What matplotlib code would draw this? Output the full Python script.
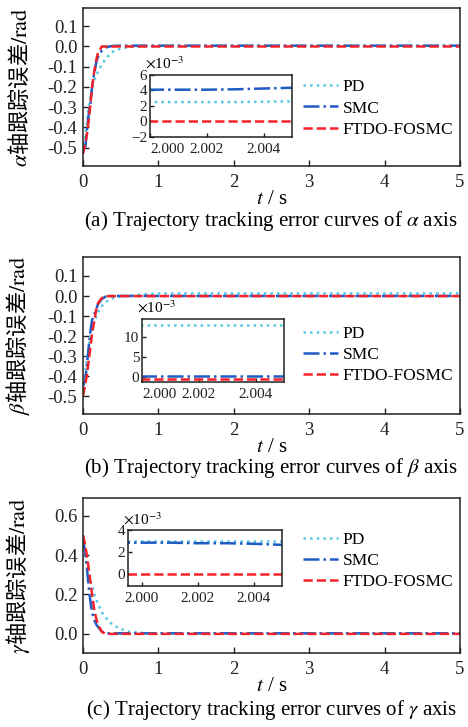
import numpy as np
import matplotlib
matplotlib.use('Agg')
import matplotlib.pyplot as plt

plt.rcParams['font.family'] = ['Liberation Serif', 'Noto Sans CJK SC']
plt.rcParams['mathtext.fontset'] = 'stix'

# time grid of the main curves (s)
t = [0, 0.03, 0.05, 0.08, 0.1, 0.12, 0.15, 0.18, 0.2, 0.25, 0.3, 0.35, 0.4, 0.5, 0.6, 0.8, 1, 2, 3, 4, 5]

# alpha axis error (rad)
pd_a   = [-0.52, -0.45, -0.38, -0.29, -0.24, -0.2, -0.165, -0.14, -0.12, -0.09, -0.06, -0.04, -0.025, -0.01, -0.003, 0.001, 0.0025, 0.0025, 0.0025, 0.0025, 0.0025]
smc_a  = [-0.5, -0.5, -0.42, -0.32, -0.28, -0.2, -0.13, -0.07, -0.05, -0.02, -0.005, 0.0, 0.003, 0.004, 0.004, 0.004, 0.004, 0.004, 0.004, 0.004, 0.004]
ftdo_a = [-0.53, -0.48, -0.44, -0.35, -0.28, -0.2, -0.12, -0.06, -0.03, 0.0, 0.0, 0.0, 0.0, 0.0, 0.0, 0.0, 0.0, 0.0, 0.0, 0.0, 0.0]

# beta axis error (rad)
pd_b   = [-0.47, -0.38, -0.31, -0.24, -0.2, -0.17, -0.13, -0.1, -0.08, -0.05, -0.03, -0.02, -0.01, -0.003, 0.0, 0.008, 0.013, 0.013, 0.013, 0.013, 0.013]
smc_b  = [-0.45, -0.42, -0.35, -0.24, -0.17, -0.12, -0.09, -0.06, -0.04, -0.015, -0.003, 0.0, 0.0003, 0.0003, 0.0003, 0.0003, 0.0003, 0.0003, 0.0003, 0.0003, 0.0003]
ftdo_b = [-0.5, -0.44, -0.4, -0.31, -0.25, -0.19, -0.12, -0.06, -0.035, -0.01, 0.0, -0.0005, -0.0005, -0.0005, -0.0005, -0.0005, -0.0005, -0.0005, -0.0005, -0.0005, -0.0005]

# gamma axis error (rad)
pd_c   = [0.5, 0.42, 0.36, 0.3, 0.27, 0.24, 0.2, 0.17, 0.15, 0.11, 0.085, 0.06, 0.045, 0.025, 0.012, 0.004, 0.003, 0.003, 0.003, 0.003, 0.003]
smc_c  = [0.47, 0.42, 0.34, 0.22, 0.16, 0.11, 0.07, 0.045, 0.035, 0.012, 0.003, 0.0028, 0.0028, 0.0028, 0.0028, 0.0028, 0.0028, 0.0028, 0.0028, 0.0028, 0.0028]
ftdo_c = [0.5, 0.45, 0.4, 0.32, 0.26, 0.2, 0.12, 0.07, 0.045, 0.01, 0.0, 0.0, 0.0, 0.0, 0.0, 0.0, 0.0, 0.0, 0.0, 0.0, 0.0]

# zoomed window around t = 2 s (values x 1e-3)
t_zoom = [1.999, 2.000, 2.001, 2.002, 2.003, 2.004, 2.005, 2.006]
pd_za   = [2.5, 2.5, 2.5, 2.5, 2.5, 2.55, 2.6, 2.6]
smc_za  = [4.1, 4.1, 4.1, 4.1, 4.15, 4.25, 4.35, 4.35]
ftdo_za = [0, 0, 0, 0, 0, 0, 0, 0]
pd_zb   = [13, 13, 13, 13, 13, 13, 13, 13]
smc_zb  = [0.3, 0.3, 0.3, 0.3, 0.3, 0.3, 0.3, 0.3]
ftdo_zb = [-0.5, -0.5, -0.5, -0.5, -0.5, -0.5, -0.5, -0.5]
pd_zc   = [3.0, 3.0, 3.0, 3.0, 3.0, 3.0, 3.0, 3.0]
smc_zc  = [2.85, 2.85, 2.85, 2.8, 2.8, 2.75, 2.65, 2.65]
ftdo_zc = [0, 0, 0, 0, 0, 0, 0, 0]

labels = ['PD', 'SMC', 'FTDO-FOSMC']
colors = ['#56c6e6', '#1f5bc4', '#f5222a']
styles = [':', '-.', '--']

fig = plt.figure(figsize=(4.68, 7.27), dpi=100)

panels = [
    dict(rect=[0.1774, 0.7717, 0.8056, 0.2173], ys=[pd_a, smc_a, ftdo_a], ylim=(-0.59, 0.19),
         yticks=[-0.5, -0.4, -0.3, -0.2, -0.1, 0.0, 0.1], sym=r'\alpha',
         inrect=[0.3205, 0.8116, 0.3034, 0.0853], zs=[pd_za, smc_za, ftdo_za], zylim=(-2, 6),
         zyticks=[-2, 0, 2, 4, 6], zxlim=(2.0, 2.005), first_left=True, leg_y=0.8508, cap_y=0.696),
    dict(rect=[0.1774, 0.4305, 0.8056, 0.2160], ys=[pd_b, smc_b, ftdo_b], ylim=(-0.59, 0.195),
         yticks=[-0.5, -0.4, -0.3, -0.2, -0.1, 0.0, 0.1], sym=r'\beta',
         inrect=[0.3034, 0.4746, 0.3034, 0.0867], zs=[pd_zb, smc_zb, ftdo_zb], zylim=(-1.25, 14.5),
         zyticks=[0, 5, 10], zxlim=(2.0, 2.005), first_left=True, leg_y=0.5117, cap_y=0.3563),
    dict(rect=[0.1774, 0.1018, 0.8056, 0.2132], ys=[pd_c, smc_c, ftdo_c], ylim=(-0.097, 0.69),
         yticks=[0.0, 0.2, 0.4, 0.6], sym=r'\gamma',
         inrect=[0.2735, 0.1939, 0.3290, 0.0770], zs=[pd_zc, smc_zc, ftdo_zc], zylim=(-1.1, 4),
         zyticks=[0, 2, 4], zxlim=(1.9995, 2.005), first_left=False, leg_y=0.2283, cap_y=0.0234),
]
letters = ['a', 'b', 'c']

for i, p in enumerate(panels):
    ax = fig.add_axes(p['rect'])
    for y, lab, c, ls in zip(p['ys'], labels, colors, styles):
        ax.plot(t, y, ls, color=c, lw=1.8, label=lab)
    ax.set_xlim(0, 5)
    ax.set_ylim(*p['ylim'])
    ax.set_yticks(p['yticks'])
    ax.yaxis.set_major_formatter(matplotlib.ticker.FormatStrFormatter('%.1f'))
    ax.set_xticks([0, 1, 2, 3, 4, 5])
    ax.tick_params(direction='in', labelsize=13.5, length=4, width=1, colors='#222222')
    ax.tick_params(axis='x', pad=6)
    ax.tick_params(axis='y', pad=4)
    for s in ax.spines.values():
        s.set_linewidth(1.1)
        s.set_color('#222222')
    ax.set_xlabel(r'$t$ / s', fontsize=15, labelpad=-1)
    ax.set_ylabel('$' + p['sym'] + r'$轴跟踪误差$\mathrm{/rad}$', fontsize=16,
                  family='Noto Sans CJK SC')
    ax.yaxis.set_label_coords(-0.136, 0.5)
    ax.legend(loc='center left', bbox_to_anchor=(0.6474, p['leg_y']), bbox_transform=fig.transFigure,
              frameon=False, fontsize=12.5, handlelength=2.0, handletextpad=0.3,
              labelspacing=0.3, borderpad=0, borderaxespad=0)
    fig.text(0.579, p['cap_y'], '(' + letters[i] + ') Trajectory tracking error curves of $' + p['sym'] + '$ axis',
             ha='center', va='center', fontsize=15)

    # inset
    ins = fig.add_axes(p['inrect'])
    for y, c, ls in zip(p['zs'], colors, styles):
        ins.plot(t_zoom, y, ls, color=c, lw=1.8)
    ins.set_xlim(*p['zxlim'])
    ins.set_ylim(*p['zylim'])
    ins.set_yticks(p['zyticks'])
    ins.set_xticks([2.000, 2.002, 2.004])
    ins.set_xticklabels(['2.000', '2.002', '2.004'])
    if p['first_left']:
        ins.get_xticklabels()[0].set_ha('left')
    ins.tick_params(direction='in', labelsize=11, length=3, width=1, pad=2, colors='#222222')
    ins.tick_params(axis='x', pad=4)
    for s in ins.spines.values():
        s.set_linewidth(1.1)
        s.set_color('#222222')
    r = p['inrect']
    fig.text(r[0] - 0.01, r[1] + r[3] + 0.004, r'$\times$10$^{-3}$', fontsize=11, va='bottom', ha='left')

fig.savefig('out.png', dpi=100)
